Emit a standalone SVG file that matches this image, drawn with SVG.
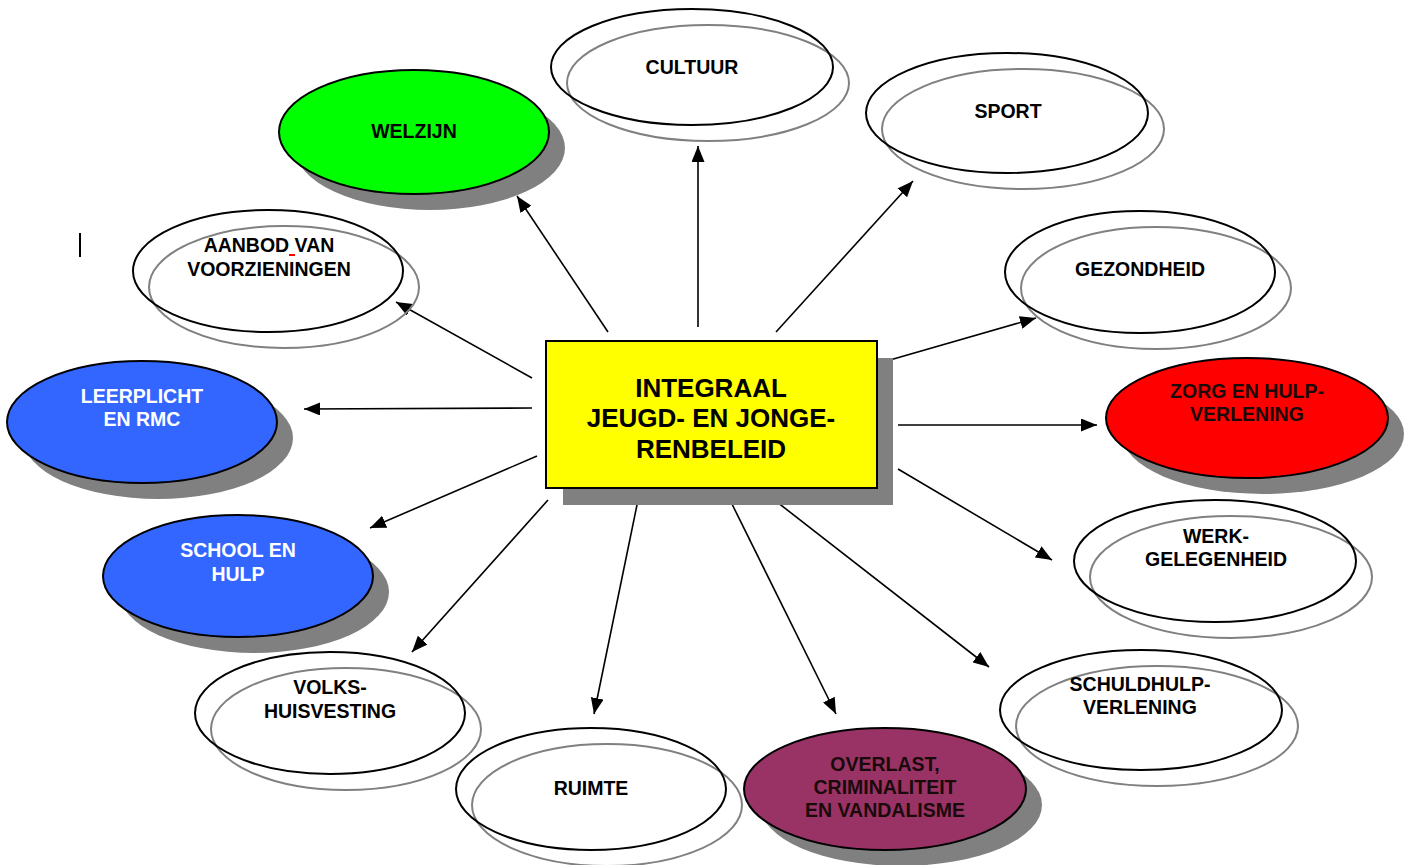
<svg xmlns="http://www.w3.org/2000/svg" width="1410" height="865" viewBox="0 0 1410 865">
<style>
.lbl{font-family:"Liberation Sans",Arial,sans-serif;font-weight:bold;font-size:19.5px;text-anchor:middle;fill:#000}
.wht{fill:#fff}
.dark{fill:#1a0a0a}
.big{font-family:"Liberation Sans",Arial,sans-serif;font-weight:bold;font-size:26px;text-anchor:middle;fill:#000}
.main{stroke:#000;stroke-width:2}
.ghost{fill:none;stroke:#808080;stroke-width:2}
.ring{fill:none;stroke:#000;stroke-width:2}
.shadow{fill:#808080}
.conn line{stroke:#000;stroke-width:1.6;marker-end:url(#arr)}
</style>
<defs>
<marker id="arr" viewBox="0 0 16 13" refX="16" refY="6.5" markerWidth="16" markerHeight="13" orient="auto" markerUnits="userSpaceOnUse">
<path d="M0,0 L16,6.5 L0,13 z" fill="#000"/>
</marker>
</defs>
<rect width="1410" height="865" fill="#fff"/>

<g id="connectors" class="conn">
<line x1="608" y1="332" x2="517" y2="196"/>
<line x1="698" y1="327" x2="698" y2="146"/>
<line x1="776" y1="332" x2="913" y2="181"/>
<line x1="883" y1="362" x2="1036" y2="318"/>
<line x1="898" y1="425" x2="1097" y2="425"/>
<line x1="898" y1="469" x2="1052" y2="560"/>
<line x1="777" y1="502" x2="989" y2="667"/>
<line x1="730" y1="500" x2="836" y2="714"/>
<line x1="638" y1="500" x2="594" y2="714"/>
<line x1="548" y1="500" x2="412" y2="652"/>
<line x1="537" y1="456" x2="370" y2="528"/>
<line x1="532" y1="408" x2="304" y2="409"/>
<line x1="532" y1="378" x2="396" y2="302"/>
</g>

<g id="center">
<rect x="563" y="358" width="330" height="147" class="shadow"/>
<rect x="546" y="341" width="331" height="147" fill="#ffff00" class="main"/>
<text class="big" x="711" y="397">INTEGRAAL</text>
<text class="big" x="711" y="427">JEUGD- EN JONGE-</text>
<text class="big" x="711" y="458">RENBELEID</text>
</g>

<g id="cultuur">
<ellipse cx="708" cy="83" rx="141" ry="58" class="ghost"/>
<ellipse cx="692" cy="67" rx="141" ry="58" class="ring"/>
<text class="lbl" x="692" y="74">CULTUUR</text>
</g>

<g id="welzijn">
<ellipse cx="430" cy="148" rx="135" ry="62" class="shadow"/>
<ellipse cx="414" cy="132" rx="135" ry="62" fill="#00ff00" class="main"/>
<text class="lbl" x="414" y="138">WELZIJN</text>
</g>

<g id="sport">
<ellipse cx="1023" cy="129" rx="141" ry="60" class="ghost"/>
<ellipse cx="1007" cy="113" rx="141" ry="60" class="ring"/>
<text class="lbl" x="1008" y="118">SPORT</text>
</g>

<g id="aanbod">
<ellipse cx="284" cy="287" rx="135" ry="61" class="ghost"/>
<ellipse cx="268" cy="271" rx="135" ry="61" class="ring"/>
<text class="lbl" x="269" y="252">AANBOD VAN</text>
<text class="lbl" x="269" y="276">VOORZIENINGEN</text>
<rect x="289" y="254" width="6" height="2" fill="#ff0000"/>
</g>

<g id="cursor">
<rect x="79" y="233" width="2" height="24" fill="#000"/>
</g>

<g id="gezondheid">
<ellipse cx="1156" cy="288" rx="135" ry="61" class="ghost"/>
<ellipse cx="1140" cy="272" rx="135" ry="61" class="ring"/>
<text class="lbl" x="1140" y="276">GEZONDHEID</text>
</g>

<g id="leerplicht">
<ellipse cx="158" cy="438" rx="135" ry="61" class="shadow"/>
<ellipse cx="142" cy="422" rx="135" ry="61" fill="#3366ff" class="main"/>
<text class="lbl wht" x="142" y="403">LEERPLICHT</text>
<text class="lbl wht" x="142" y="426">EN RMC</text>
</g>

<g id="zorg">
<ellipse cx="1263" cy="434" rx="141" ry="60" class="shadow"/>
<ellipse cx="1247" cy="418" rx="141" ry="60" fill="#ff0000" class="main"/>
<text class="lbl dark" x="1247" y="398">ZORG EN HULP-</text>
<text class="lbl dark" x="1247" y="421">VERLENING</text>
</g>

<g id="school">
<ellipse cx="254" cy="592" rx="135" ry="61" class="shadow"/>
<ellipse cx="238" cy="576" rx="135" ry="61" fill="#3366ff" class="main"/>
<text class="lbl wht" x="238" y="557">SCHOOL EN</text>
<text class="lbl wht" x="238" y="581">HULP</text>
</g>

<g id="werk">
<ellipse cx="1231" cy="577" rx="141" ry="61" class="ghost"/>
<ellipse cx="1215" cy="561" rx="141" ry="61" class="ring"/>
<text class="lbl" x="1216" y="543">WERK-</text>
<text class="lbl" x="1216" y="566">GELEGENHEID</text>
</g>

<g id="volkshuisvesting">
<ellipse cx="346" cy="729" rx="135" ry="61" class="ghost"/>
<ellipse cx="330" cy="713" rx="135" ry="61" class="ring"/>
<text class="lbl" x="330" y="694">VOLKS-</text>
<text class="lbl" x="330" y="718">HUISVESTING</text>
</g>

<g id="schuldhulp">
<ellipse cx="1157" cy="726" rx="141" ry="60" class="ghost"/>
<ellipse cx="1141" cy="710" rx="141" ry="60" class="ring"/>
<text class="lbl" x="1140" y="691">SCHULDHULP-</text>
<text class="lbl" x="1140" y="714">VERLENING</text>
</g>

<g id="ruimte">
<ellipse cx="607" cy="805" rx="135" ry="61" class="ghost"/>
<ellipse cx="591" cy="789" rx="135" ry="61" class="ring"/>
<text class="lbl" x="591" y="795">RUIMTE</text>
</g>

<g id="overlast">
<ellipse cx="901" cy="805" rx="141" ry="61" class="shadow"/>
<ellipse cx="885" cy="789" rx="141" ry="61" fill="#993366" class="main"/>
<text class="lbl dark" x="885" y="771">OVERLAST,</text>
<text class="lbl dark" x="885" y="794">CRIMINALITEIT</text>
<text class="lbl dark" x="885" y="817">EN VANDALISME</text>
</g>
</svg>
